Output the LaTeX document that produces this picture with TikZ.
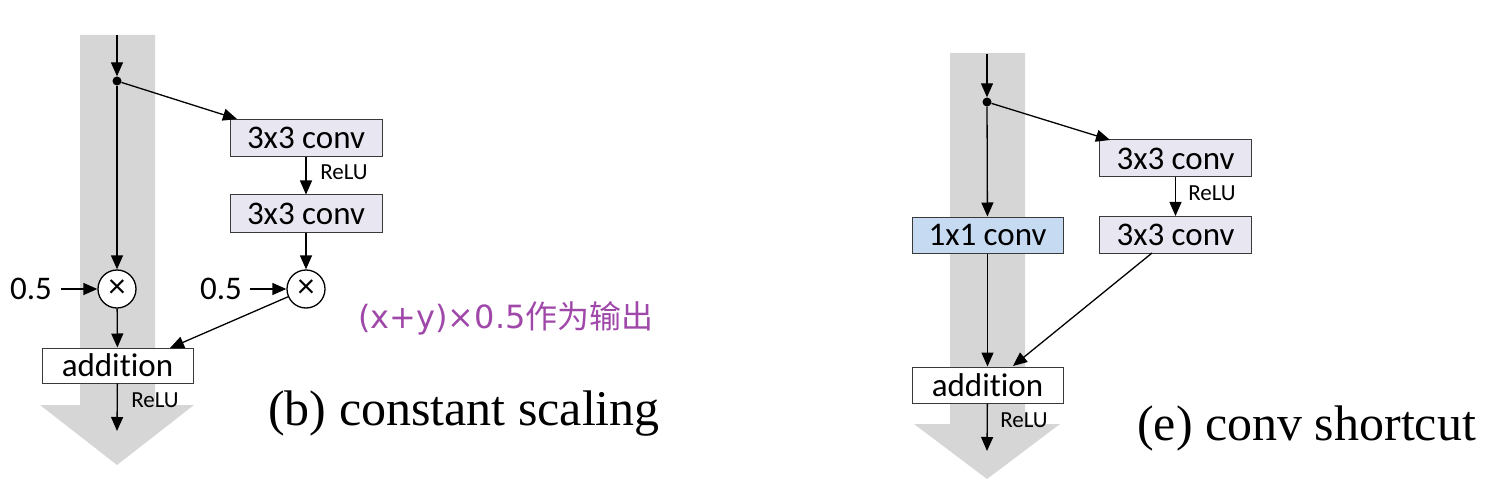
\documentclass[tikz,border=0pt]{standalone}
\usepackage{fontspec}
\usetikzlibrary{arrows.meta,calc}
\newfontfamily\lblf{Carlito}[Ligatures=NoCommon]
\newfontfamily\capf{Liberation Serif}
\newfontfamily\cjkf{Noto Sans CJK SC}
\newfontfamily\latf{DejaVu Sans}
\definecolor{bandgray}{HTML}{D6D6D6}
\definecolor{convfill}{HTML}{E8E6F1}
\definecolor{bluefill}{HTML}{C6DAF2}
\definecolor{notepurple}{HTML}{9F48A9}
\definecolor{edgegray}{HTML}{3A3A3A}
\begin{document}
\begin{tikzpicture}[x=1pt,y=-1pt,
  boxs/.style={draw=edgegray,line width=1pt,minimum width=152pt,minimum height=37pt,inner sep=0pt,font=\lblf\fontsize{33}{33}\selectfont},
  convs/.style={boxs,fill=convfill},
  arr/.style={-{Triangle[length=14pt,width=12pt]},line width=1.3pt},
  mults/.style={circle,draw=black,line width=1.3pt,minimum size=38pt,inner sep=0pt,fill=white},
  relus/.style={font=\lblf\fontsize{23}{23}\selectfont,inner sep=0pt},
  halfs/.style={font=\lblf\fontsize{33}{33}\selectfont,inner sep=0pt},
  dots/.style={circle,fill=black,minimum size=9pt,inner sep=0pt},
  caps/.style={font=\capf\fontsize{50}{50}\selectfont,inner sep=0pt,anchor=base west}]
\useasboundingbox (0,0) rectangle (1493,481);
% gray bands
\fill[bandgray] (80,35) -- (155,35) -- (155,405) -- (194,405) -- (117,465) -- (40,405) -- (80,405) -- cycle;
\fill[bandgray] (950,53) -- (1025,53) -- (1025,424) -- (1060,424) -- (987,479) -- (914,424) -- (950,424) -- cycle;

% ---- (b) constant scaling
\coordinate (t1) at (117,35);
\node[dots] (d1) at (117,81) {};
\node[convs] (c1a) at (306,138) {3x3 conv};
\node[convs] (c1b) at (306,213.5) {3x3 conv};
\node[mults] (m1) at (117,289) {\lblf\fontsize{34}{34}\selectfont\raisebox{1pt}{×}};
\node[mults] (m2) at (306,289) {\lblf\fontsize{34}{34}\selectfont\raisebox{1pt}{×}};
\node[halfs] (h1) at (31,289) {0.5};
\node[halfs] (h2) at (221,289) {0.5};
\node[boxs,fill=white,minimum width=151pt,minimum height=35pt] (a1) at (117.5,365.5) {addition};
\node[relus] (r1) at (344,172) {ReLU};
\node[relus] (r2) at (155,400) {ReLU};
\coordinate (c1in) at (237,119);
\coordinate (a1in) at (170,348);
\coordinate (e1) at (117,431);
\draw[arr] (t1) -- (d1.north);
\draw[arr] (d1) -- (c1in);
\draw[arr] (d1) -- (m1);
\draw[arr] (c1a) -- (c1b);
\draw[arr] (c1b) -- (m2);
\draw[arr] ([xshift=9pt]h1.east) -- (m1);
\draw[arr] ([xshift=8pt]h2.east) -- (m2);
\draw[arr] (m1) -- (a1);
\draw[arr] (m2) -- (a1in);
\draw[arr] (a1) -- (e1);
\node[font=\fontsize{32}{32}\selectfont,text=notepurple,anchor=west,inner sep=0pt] (note) at (358,318) {\latf (x+y)×0.5\cjkf 作为输出};
\node[caps] (capb) at (268,425) {(b) constant scaling};

% ---- (e) conv shortcut
\coordinate (t2) at (987,54);
\node[dots] (d2) at (987,102) {};
\node[convs] (c2a) at (1175.5,158.5) {3x3 conv};
\node[convs] (c2b) at (1175.5,235) {3x3 conv};
\node[boxs,fill=bluefill,minimum width=151pt,minimum height=36pt] (s2) at (987.5,235) {1x1 conv};
\node[boxs,fill=white,minimum width=151pt,minimum height=36pt] (a2) at (987.5,385) {addition};
\node[relus] (r3) at (1212,193) {ReLU};
\node[relus] (r4) at (1024,420) {ReLU};
\coordinate (c2in) at (1110,140);
\coordinate (c2out) at (1152,253);
\coordinate (a2in) at (1013,366);
\coordinate (e2) at (987,451);
\draw[arr] (t2) -- (d2.north);
\draw[arr] (d2) -- (c2in);
\draw[arr] (d2) -- (s2);
\draw[arr] (c2a) -- (c2b);
\draw[arr] (s2) -- (a2);
\draw[arr] (c2out) -- (a2in);
\draw[arr] (a2) -- (e2);
\node[caps] (cape) at (1137,440) {(e) conv shortcut};
\end{tikzpicture}
\end{document}
